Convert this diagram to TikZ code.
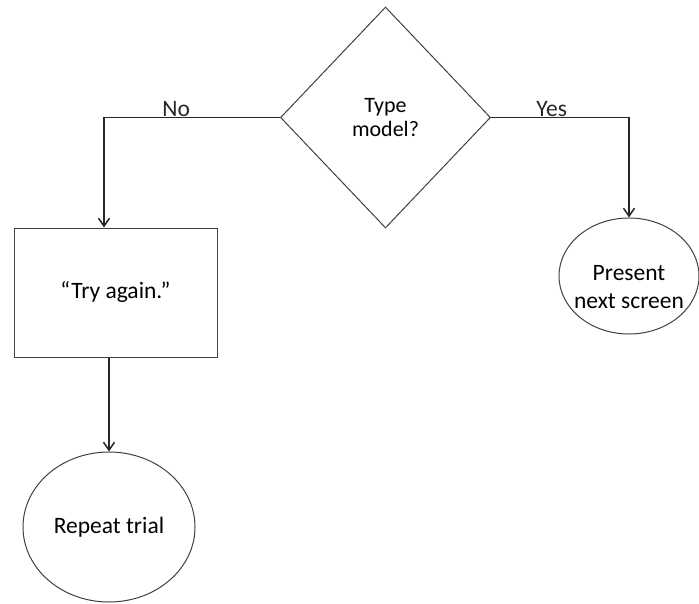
\documentclass[tikz,border=0pt]{standalone}
\usepackage{fontspec}
\setmainfont{Carlito}
\usetikzlibrary{positioning}
\usetikzlibrary{shapes.geometric}
\usetikzlibrary{arrows.meta}

\tikzset{
  shapeline/.style={draw=black!75, line width=1pt},
  choice/.style={diamond, shapeline, minimum width=210pt, minimum height=221pt,
    inner sep=0pt, align=center, font=\fontsize{22}{24}\selectfont},
  stepbox/.style={rectangle, shapeline, minimum width=203pt, minimum height=129pt},
  endstate/.style={ellipse, shapeline, inner sep=0pt, align=center},
  flow/.style={-{Straight Barb[length=8pt,width=11pt,line width=1.5pt]}, line width=1.5pt, black!85},
}

\begin{document}
\begin{tikzpicture}[x=1pt, y=-1pt, font=\fontsize{23.5}{28}\selectfont]
\useasboundingbox (0,0) rectangle (699,603);
\node[choice] (dec) at (385.5,117.5) {Type\\model?};
\node[stepbox] (try) at (115.5,292.5) {``Try again.''};
\node[endstate, minimum width=140pt, minimum height=116pt] (next) at (629,276) {};
\node[align=center, below=-14pt of next.center] (nexttxt) {Present\\next screen};
\node[endstate, minimum width=172pt, minimum height=150pt] (rep) at (109,527) {Repeat trial};
\coordinate (noturn) at (104,117.5);
\coordinate (yesturn) at (629,117.5);
 \draw[flow] (dec.west) -- (noturn) node[pos=0.59, above, inner sep=0pt] {No} -- (try.north -| noturn);
 \draw[flow] (dec.east) -- (yesturn) node[pos=0.44, above, inner sep=0pt] {Yes} -- (next.north);
  \draw[flow] (try.south -| rep.north) -- (rep.north);
\end{tikzpicture}
\end{document}
